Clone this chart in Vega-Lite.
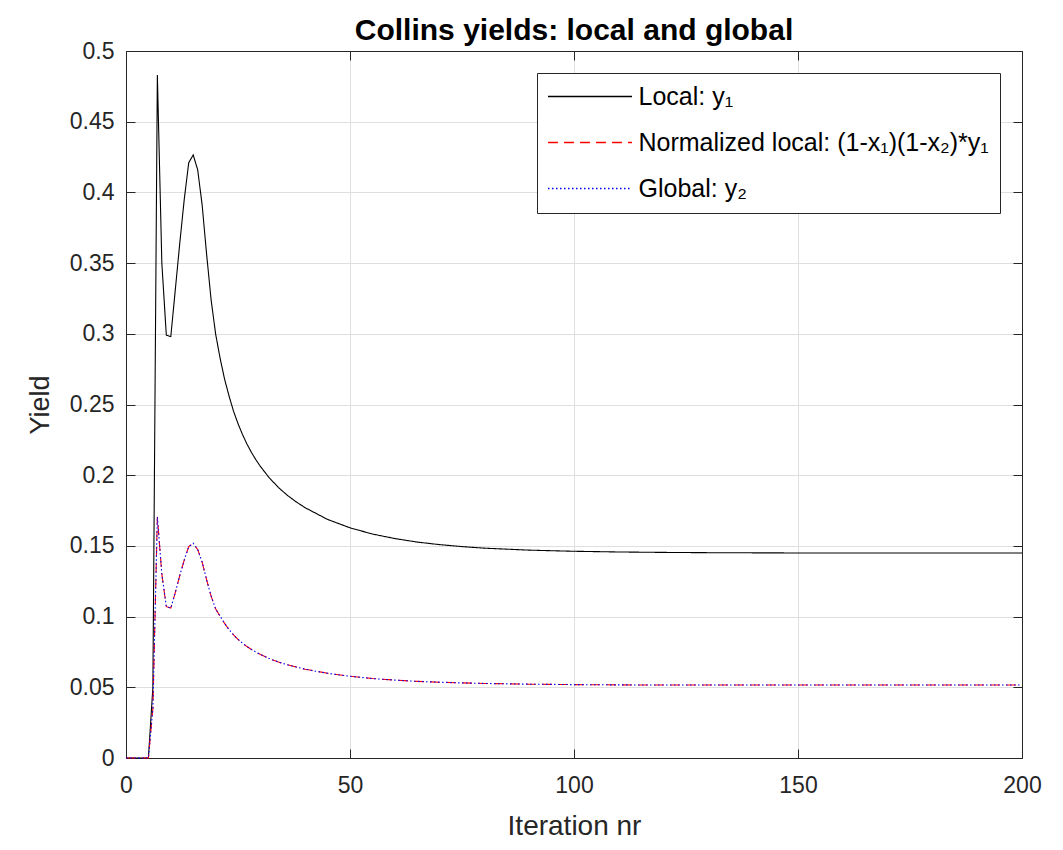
{
  "$schema": "https://vega.github.io/schema/vega-lite/v6.json",
  "width": 896,
  "height": 707,
  "autosize": {"type": "none"},
  "padding": {"left": 126, "top": 51, "right": 41, "bottom": 92},
  "background": "white",
  "title": {"text": "Collins yields: local and global", "fontSize": 30, "fontWeight": "bold", "font": "Liberation Sans", "color": "#000000", "offset": -6, "anchor": "middle"},
  "config": {
    "view": {"stroke": null},
    "axis": {"domainColor": "#262626", "domainWidth": 1, "tickColor": "#262626", "tickSize": -9, "tickWidth": 1, "labelColor": "#262626", "labelFont": "Liberation Sans", "labelFontSize": 23, "titleFont": "Liberation Sans", "titleColor": "#262626", "titleFontWeight": "normal", "gridColor": "#dfdfdf", "gridWidth": 1, "gridOpacity": 1},
    "legend": {"title": null, "orient": "top-right", "offset": 22, "strokeColor": "#262626", "fillColor": "#ffffff", "padding": 11, "labelFont": "Liberation Sans", "labelFontSize": 25, "labelColor": "#000000", "symbolType": "M-4,0H4", "symbolSize": 441, "symbolStrokeWidth": 1.4, "rowPadding": 20, "symbolOffset": 29.5, "labelOffset": 36, "labelLimit": 500}
  },
  "data": {"values": [
    {"it": 0, "local": 0, "norm": 0, "global": 0},
    {"it": 1, "local": 0, "norm": 0, "global": 0},
    {"it": 2, "local": 0, "norm": 0, "global": 0},
    {"it": 3, "local": 0, "norm": 0, "global": 0},
    {"it": 4, "local": 0, "norm": 0, "global": 0},
    {"it": 5, "local": 0, "norm": 0, "global": 0},
    {"it": 6, "local": 0.05, "norm": 0.035, "global": 0.035},
    {"it": 7, "local": 0.483, "norm": 0.1705, "global": 0.1705},
    {"it": 8, "local": 0.35, "norm": 0.13, "global": 0.13},
    {"it": 9, "local": 0.299, "norm": 0.107, "global": 0.107},
    {"it": 10, "local": 0.298, "norm": 0.106, "global": 0.106},
    {"it": 11, "local": 0.331, "norm": 0.117, "global": 0.117},
    {"it": 12, "local": 0.364, "norm": 0.129, "global": 0.129},
    {"it": 13, "local": 0.395, "norm": 0.14, "global": 0.14},
    {"it": 14, "local": 0.421, "norm": 0.1495, "global": 0.1495},
    {"it": 15, "local": 0.4265, "norm": 0.1518, "global": 0.1518},
    {"it": 16, "local": 0.416, "norm": 0.1475, "global": 0.1475},
    {"it": 17, "local": 0.391, "norm": 0.1385, "global": 0.1385},
    {"it": 18, "local": 0.356, "norm": 0.126, "global": 0.126},
    {"it": 19, "local": 0.324, "norm": 0.1145, "global": 0.1145},
    {"it": 20, "local": 0.3, "norm": 0.1055, "global": 0.1055},
    {"it": 21, "local": 0.2828, "norm": 0.1003, "global": 0.1003},
    {"it": 22, "local": 0.268, "norm": 0.0952, "global": 0.0952},
    {"it": 23, "local": 0.256, "norm": 0.0908, "global": 0.0908},
    {"it": 24, "local": 0.2453, "norm": 0.0871, "global": 0.0871},
    {"it": 25, "local": 0.2365, "norm": 0.0839, "global": 0.0839},
    {"it": 26, "local": 0.2288, "norm": 0.0812, "global": 0.0812},
    {"it": 27, "local": 0.222, "norm": 0.0788, "global": 0.0788},
    {"it": 28, "local": 0.2161, "norm": 0.0767, "global": 0.0767},
    {"it": 29, "local": 0.2109, "norm": 0.0749, "global": 0.0749},
    {"it": 30, "local": 0.2062, "norm": 0.0732, "global": 0.0732},
    {"it": 32, "local": 0.1981, "norm": 0.0703, "global": 0.0703},
    {"it": 34, "local": 0.1914, "norm": 0.0679, "global": 0.0679},
    {"it": 36, "local": 0.1858, "norm": 0.0659, "global": 0.0659},
    {"it": 38, "local": 0.1811, "norm": 0.0643, "global": 0.0643},
    {"it": 40, "local": 0.177, "norm": 0.0628, "global": 0.0628},
    {"it": 45, "local": 0.1687, "norm": 0.0599, "global": 0.0599},
    {"it": 50, "local": 0.1628, "norm": 0.0578, "global": 0.0578},
    {"it": 55, "local": 0.1584, "norm": 0.0562, "global": 0.0562},
    {"it": 60, "local": 0.1552, "norm": 0.0551, "global": 0.0551},
    {"it": 65, "local": 0.1527, "norm": 0.0542, "global": 0.0542},
    {"it": 70, "local": 0.1509, "norm": 0.0536, "global": 0.0536},
    {"it": 75, "local": 0.1495, "norm": 0.0531, "global": 0.0531},
    {"it": 80, "local": 0.1484, "norm": 0.0527, "global": 0.0527},
    {"it": 90, "local": 0.147, "norm": 0.0522, "global": 0.0522},
    {"it": 100, "local": 0.1462, "norm": 0.0519, "global": 0.0519},
    {"it": 110, "local": 0.1457, "norm": 0.0517, "global": 0.0517},
    {"it": 120, "local": 0.1454, "norm": 0.0516, "global": 0.0516},
    {"it": 130, "local": 0.1452, "norm": 0.0516, "global": 0.0516},
    {"it": 140, "local": 0.1451, "norm": 0.0516, "global": 0.0516},
    {"it": 150, "local": 0.145, "norm": 0.0516, "global": 0.0516},
    {"it": 160, "local": 0.145, "norm": 0.0516, "global": 0.0516},
    {"it": 170, "local": 0.145, "norm": 0.0516, "global": 0.0516},
    {"it": 180, "local": 0.145, "norm": 0.0516, "global": 0.0516},
    {"it": 190, "local": 0.145, "norm": 0.0516, "global": 0.0516},
    {"it": 200, "local": 0.145, "norm": 0.0516, "global": 0.0516}
  ]},
  "transform": [{"fold": ["local", "norm", "global"], "as": ["series", "y"]}],
  "layer": [
    {
      "mark": {"type": "line", "strokeWidth": 1.1},
      "encoding": {
        "x": {"field": "it", "type": "quantitative", "scale": {"domain": [0, 200], "nice": false, "zero": false},
              "axis": {"orient": "bottom", "values": [0, 50, 100, 150, 200], "title": "Iteration nr", "titleFontSize": 28, "labelPadding": 25, "titlePadding": 15, "labelFlush": false}},
        "y": {"field": "y", "type": "quantitative", "scale": {"domain": [0, 0.5], "nice": false},
              "axis": {"orient": "left", "values": [0, 0.05, 0.1, 0.15, 0.2, 0.25, 0.3, 0.35, 0.4, 0.45, 0.5], "format": "~g", "title": "Yield", "titleFontSize": 27, "labelPadding": 21, "titlePadding": 15, "labelFlush": false}},
        "color": {"field": "series", "type": "nominal",
                  "scale": {"domain": ["local", "norm", "global"], "range": ["#000000", "#ff0000", "#0000ff"]},
                  "legend": {"labelExpr": "datum.label == 'local' ? 'Local: y₁' : datum.label == 'norm' ? 'Normalized local: (1-x₁)(1-x₂)*y₁' : 'Global: y₂'"}},
        "strokeDash": {"field": "series", "type": "nominal",
                       "scale": {"domain": ["local", "norm", "global"], "range": [[1, 0], [10, 6], [1.5, 2.5]]},
                       "legend": {"labelExpr": "datum.label == 'local' ? 'Local: y₁' : datum.label == 'norm' ? 'Normalized local: (1-x₁)(1-x₂)*y₁' : 'Global: y₂'"}}
      }
    },
    {
      "mark": {"type": "line", "strokeOpacity": 0},
      "encoding": {
        "x": {"field": "it", "type": "quantitative", "axis": {"orient": "top", "values": [0, 50, 100, 150, 200], "labels": false, "title": null, "grid": false}},
        "y": {"field": "y", "type": "quantitative", "axis": {"orient": "right", "values": [0, 0.05, 0.1, 0.15, 0.2, 0.25, 0.3, 0.35, 0.4, 0.45, 0.5], "labels": false, "title": null, "grid": false}},
        "detail": {"field": "series"}
      }
    }
  ],
  "resolve": {"axis": {"x": "independent", "y": "independent"}}
}
